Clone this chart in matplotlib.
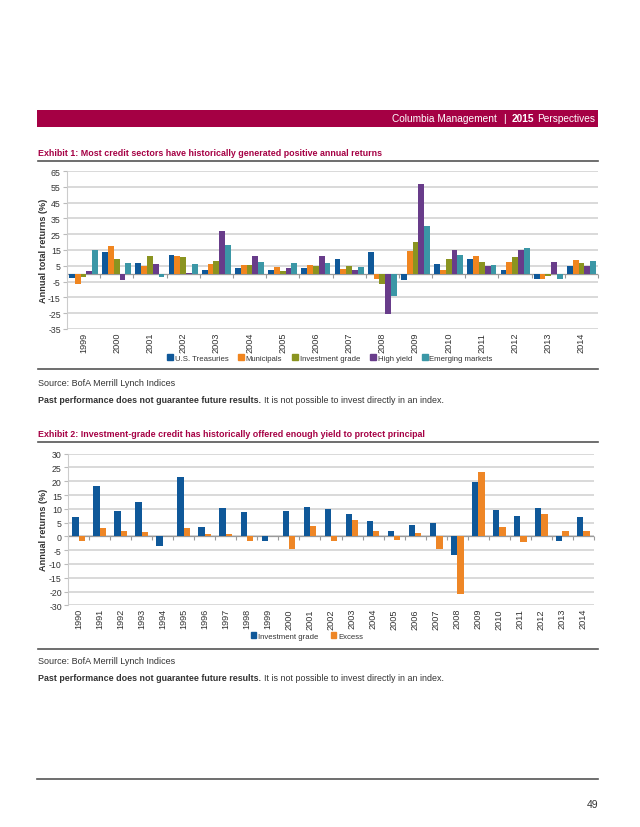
import matplotlib
matplotlib.use("Agg")
import matplotlib.pyplot as plt
import numpy as np
from matplotlib.patches import Rectangle, Patch
from matplotlib.lines import Line2D

# Exhibit 1 data: annual total returns (%)
years1 = [str(y) for y in range(1999, 2015)]
treasuries = [-2.5, 13.7, 6.8, 11.9, 2.6, 3.5, 2.6, 3.4, 9.0, 13.8, -3.8, 6.2, 9.6, 2.5, -3.2, 4.9]
municipals = [-6.5, 17.5, 5.0, 11.3, 6.2, 5.6, 4.3, 5.5, 3.2, -3.6, 14.6, 2.5, 11.0, 7.4, -3.2, 8.9]
inv_grade = [-2.0, 9.0, 11.3, 10.5, 8.3, 5.6, 2.0, 4.7, 4.9, -6.6, 20.0, 9.6, 7.4, 10.4, -1.7, 6.8]
high_yield = [2.0, -4.0, 6.2, 0.5, 27.3, 11.1, 3.5, 11.0, 2.3, -25.7, 57.0, 15.3, 4.9, 15.3, 7.4, 4.9]
emerging = [15.0, 6.8, -1.8, 6.2, 18.3, 7.5, 6.8, 6.8, 4.0, -14.4, 30.0, 11.9, 5.5, 16.1, -3.2, 8.3]
labels1 = ["U.S. Treasuries", "Municipals", "Investment grade", "High yield", "Emerging markets"]
yticks1 = [65, 55, 45, 35, 25, 15, 5, -5, -15, -25, -35]

# Exhibit 2 data: investment grade returns vs excess (%)
years2 = [str(y) for y in range(1990, 2015)]
ig_returns = [7.2, 18.3, 9.1, 12.3, -3.4, 21.4, 3.5, 10.4, 8.9, -1.8, 9.1, 10.7, 10.0,
              8.1, 5.5, 2.1, 4.3, 4.7, -6.8, 19.8, 9.6, 7.3, 10.4, -1.5, 7.0]
excess = [-1.5, 3.0, 1.9, 1.6, 0.2, 3.0, 0.8, 0.8, -1.5, 0.2, -4.6, 3.9, -1.5,
          6.1, 2.1, -1.2, 1.3, -4.6, -20.9, 23.2, 3.5, -2.2, 8.1, 2.1, 2.1]
labels2 = ["Investment grade", "Excess"]
yticks2 = [30, 25, 20, 15, 10, 5, 0, -5, -10, -15, -20, -25]
ytick_labels2 = ["30", "25", "20", "15", "10", "5", "0", "-5", "-10", "-15", "-20", "-30"]

colors1 = ["#0F5899", "#F0851F", "#8A9420", "#683C8A", "#3B97A6"]
colors2 = ["#0F5899", "#EE8626"]
crimson = "#A50044"
txt = "#333333"

plt.rcParams["font.family"] = ["Liberation Sans", "DejaVu Sans"]

W, H = 640, 828
fig = plt.figure(figsize=(W / 100, H / 100), dpi=100)
renderer = fig.canvas.get_renderer()


def fx(px):
    return px / W


def fy(py):
    return 1 - py / H


def hline(y, x0=38, x1=598, color="#555555", lw=1.2):
    fig.add_artist(Line2D([fx(x0), fx(x1)], [fy(y), fy(y)], color=color, lw=lw))


def text_run(x, y, pieces, size, color, gap=3):
    # place pieces of (text, weight) left to right
    cur = x
    for s, w in pieces:
        t = fig.text(fx(cur), fy(y), s, fontsize=size, weight=w, color=color, va="center", ha="left")
        bb = t.get_window_extent(renderer)
        cur += bb.width + gap


def text_run_right(x, y, pieces, size, color, gaps):
    cur = x
    for (s, w), g in zip(reversed(pieces), gaps):
        t = fig.text(fx(cur), fy(y), s, fontsize=size, weight=w, color=color, va="center", ha="right")
        bb = t.get_window_extent(renderer)
        cur -= bb.width + g


# header bar
fig.add_artist(Rectangle((fx(37), fy(128)), (598 - 37) / W, 17 / H, color=crimson, lw=0))
text_run_right(595, 119.5, [("Columbia Management", "normal"), ("|", "normal"),
                            ("2015", "bold"), ("Perspectives", "normal")], 7.3, "white",
               gaps=[2.5, 6, 6, 0])


def style_axes(ax, yticks, ylabels, years, ylim):
    ax.set_ylim(ylim)
    ax.set_xlim(-0.5, len(years) - 0.5)
    ax.set_yticks(yticks)
    ax.set_yticklabels(ylabels)
    ax.set_xticks(np.arange(len(years)))
    ax.set_xticklabels(years, rotation=90, fontsize=6.6, color=txt)
    ax.tick_params(axis="x", length=0, pad=2)
    ax.tick_params(axis="y", length=3, color="#BBBBBB", labelsize=6.3, labelcolor=txt, pad=1.5)
    ax.grid(axis="y", color="#CFCFCF", lw=1.1)
    ax.set_axisbelow(True)
    for side in ["top", "right", "bottom"]:
        ax.spines[side].set_visible(False)
    ax.spines["left"].set_color("#CCCCCC")
    ax.spines["left"].set_linewidth(0.8)
    ax.axhline(0, color="#9A9A9A", lw=0.9, zorder=1)
    bounds = np.arange(len(years) + 1) - 0.5
    ax.plot(bounds, np.zeros(len(bounds)), ls="none", marker=3, ms=3, mew=0.8,
            color="#9A9A9A", clip_on=False)


# Exhibit 1
fig.text(fx(38), fy(153.5), "Exhibit 1: Most credit sectors have historically generated positive annual returns",
         fontsize=6.4, weight="bold", color=crimson, va="center")
hline(161.5)

ax1 = fig.add_axes([fx(67), fy(330), (598 - 67) / W, (330 - 172) / H])
x1 = np.arange(len(years1))
w1 = 0.175
series1 = [treasuries, municipals, inv_grade, high_yield, emerging]
for i, (vals, c) in enumerate(zip(series1, colors1)):
    ax1.bar(x1 + (i - 2) * w1, vals, width=w1, color=c, zorder=2)
style_axes(ax1, yticks1, [str(v) for v in yticks1], years1, (-35, 65))
fig.text(fx(43), fy(251), "Annual total returns (%)", rotation=90, fontsize=6.6, weight="bold",
         color=txt, ha="center", va="center")

fig.legend(handles=[Patch(color=c, label=l) for c, l in zip(colors1, labels1)],
           loc="center", bbox_to_anchor=(fx(330), fy(359)), ncol=5, frameon=False,
           fontsize=5.6, handlelength=0.7, handleheight=0.7, handletextpad=0.25,
           columnspacing=1.3, labelcolor=txt, borderpad=0)

hline(370)
fig.text(fx(38), fy(383), "Source: BofA Merrill Lynch Indices", fontsize=6.5, color=txt, va="center")
text_run(38, 401, [("Past performance does not guarantee future results.", "bold"),
                   ("It is not possible to invest directly in an index.", "normal")], 6.4, txt, gap=2.5)

# Exhibit 2
fig.text(fx(38), fy(435), "Exhibit 2: Investment-grade credit has historically offered enough yield to protect principal",
         fontsize=6.4, weight="bold", color=crimson, va="center")
hline(443)

ax2 = fig.add_axes([fx(68), fy(606.3), (594 - 68) / W, (606.3 - 454.7) / H])
x2 = np.arange(len(years2))
w2 = 0.3
ax2.bar(x2 - w2 / 2, ig_returns, width=w2, color=colors2[0], zorder=2)
ax2.bar(x2 + w2 / 2, excess, width=w2, color=colors2[1], zorder=2)
style_axes(ax2, yticks2, ytick_labels2, years2, (-25, 30))
fig.text(fx(43), fy(530), "Annual returns (%)", rotation=90, fontsize=6.6, weight="bold",
         color=txt, ha="center", va="center")

fig.legend(handles=[Patch(color=c, label=l) for c, l in zip(colors2, labels2)],
           loc="center", bbox_to_anchor=(fx(307), fy(637)), ncol=2, frameon=False,
           fontsize=5.6, handlelength=0.7, handleheight=0.7, handletextpad=0.25,
           columnspacing=1.6, labelcolor=txt, borderpad=0)

hline(649.5)
fig.text(fx(38), fy(661.5), "Source: BofA Merrill Lynch Indices", fontsize=6.5, color=txt, va="center")
text_run(38, 679, [("Past performance does not guarantee future results.", "bold"),
                   ("It is not possible to invest directly in an index.", "normal")], 6.4, txt, gap=2.5)

# page footer
hline(780, x0=37, x1=598)
fig.text(fx(598), fy(805), "49", fontsize=7.5, color=txt, ha="right", va="center")

fig.savefig("out.png", dpi=100)
